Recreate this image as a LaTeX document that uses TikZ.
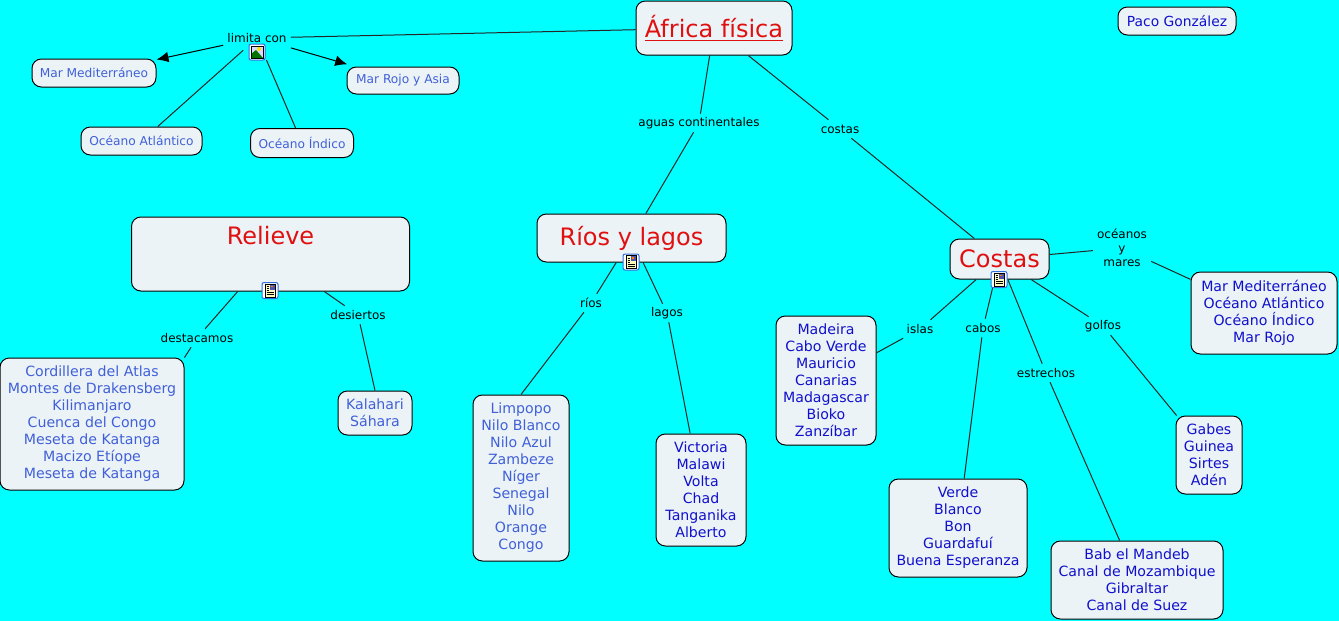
\documentclass[tikz,border=0pt]{standalone}
\usepackage{fontspec}
\usepackage{tikz}
\usetikzlibrary{arrows.meta}
\setmainfont{DejaVu Sans}
\definecolor{mapbg}{RGB}{0,255,255}
\definecolor{boxfill}{RGB}{236,243,247}
\definecolor{lightblue}{RGB}{64,96,216}
\definecolor{darkblue}{RGB}{16,16,204}
\definecolor{titlered}{RGB}{224,16,16}
\definecolor{iconblue}{RGB}{50,110,220}
\tikzset{
  concept/.style={draw=black, line width=0.75pt, fill=boxfill, rounded corners=7pt, inner sep=0pt, align=center},
  small/.style={concept, text=lightblue, font=\fontsize{9.15}{13}\selectfont},
  listlight/.style={concept, text=lightblue, font=\fontsize{10.6}{12.75}\selectfont},
  listdark/.style={concept, text=darkblue, font=\fontsize{10.6}{12.75}\selectfont},
  titlebox/.style={concept, text=titlered, font=\fontsize{18}{22}\selectfont},
  linklabel/.style={inner xsep=3pt, inner ysep=0pt, minimum height=13.5pt, align=center, font=\fontsize{9}{10.5}\selectfont},
  link/.style={line width=0.75pt, draw=black!85},
  linkarrow/.style={link, draw=black, -{Latex[length=9pt,width=8pt]}}
}
% small map icons, centred on the given point
\newcommand{\iconframe}[2]{
  \draw[draw=iconblue, fill=white, line width=0.75pt, rounded corners=1.5pt] (#1-8,#2-8) rectangle (#1+8,#2+8);
}
\newcommand{\imageicon}[2]{
  \iconframe{#1}{#2}
  \fill[blue!15] (#1-6,#2-6) rectangle (#1+6,#2+6);
  \fill[yellow!80!orange] (#1+2,#2-3) circle (2);
  \fill[green!45!black] (#1-6,#2+6) -- (#1-6,#2+2) -- (#1-1,#2-2) -- (#1+6,#2+6) -- cycle;
  \draw[black, line width=0.6pt] (#1-6,#2-6) rectangle (#1+6,#2+6);
}
\newcommand{\noteicon}[2]{
  \iconframe{#1}{#2}
  \fill[yellow!25] (#1-5,#2-6.5) rectangle (#1+5,#2+6.5);
  \fill[blue!35!gray] (#1,#2-6) rectangle (#1+5,#2-1);
  \fill[orange] (#1+1,#2-5) rectangle (#1+2.5,#2-3.5);
  \draw[black, line width=0.6pt] (#1-5,#2-6.5) rectangle (#1+5,#2+6.5);
  \draw[black, line width=0.6pt] (#1-3.5,#2-4) -- (#1-1,#2-4) (#1-3.5,#2-2) -- (#1-1,#2-2)
    (#1-3.5,#2) -- (#1-1,#2) (#1-3.5,#2+2) -- (#1+3.5,#2+2) (#1-3.5,#2+4) -- (#1+3.5,#2+4);
}
\begin{document}
\begin{tikzpicture}[x=0.75pt,y=-0.75pt]
  \useasboundingbox (0,0) rectangle (1339,621);
  \fill[mapbg] (0,0) rectangle (1339,621);

  % Concepts
  \node[titlebox, minimum width=117pt, minimum height=40.5pt] (africa) at (714,28) {\underline{África física}};
  \node[small, text=darkblue, font=\fontsize{10.4}{13}\selectfont, minimum width=88.5pt, minimum height=21pt] (paco) at (1177,21) {Paco González};
  \node[small, minimum width=93pt, minimum height=21pt] (medit) at (94,73) {Mar Mediterráneo};
  \node[small, minimum width=84pt, minimum height=20.25pt] (rojo) at (403,80.5) {Mar Rojo y Asia};
  \node[small, minimum width=90.75pt, minimum height=21pt] (atlantico) at (141.5,141) {Océano Atlántico};
  \node[small, minimum width=77.25pt, minimum height=21.75pt] (indico) at (302,143) {Océano Índico};

  \node[titlebox, minimum width=208.5pt, minimum height=55.5pt] (relieve) at (270.5,254) {Relieve\\[-1pt]\strut};
  \node[titlebox, minimum width=141.75pt, minimum height=36pt] (rios) at (631.5,238) {Ríos y lagos};
  \node[titlebox, minimum width=74.25pt, minimum height=30pt] (costas) at (999.5,259) {Costas};

  % Lists
  \node[listlight, minimum width=138pt, minimum height=99pt] (cordillera) at (92,424) {Cordillera del Atlas\\Montes de Drakensberg\\Kilimanjaro\\Cuenca del Congo\\Meseta de Katanga\\Macizo Etíope\\Meseta de Katanga};
  \node[listlight, minimum width=55.5pt, minimum height=33pt] (kalahari) at (375,413) {Kalahari\\Sáhara};
  \node[listlight, minimum width=72pt, minimum height=124.5pt] (limpopo) at (521,478) {Limpopo\\Nilo Blanco\\Nilo Azul\\Zambeze\\Níger\\Senegal\\Nilo\\Orange\\Congo};
  \node[listdark, minimum width=67.5pt, minimum height=84pt] (victoria) at (701,490) {Victoria\\Malawi\\Volta\\Chad\\Tanganika\\Alberto};
  \node[listdark, minimum width=75pt, minimum height=96.75pt] (madeira) at (826,380.5) {Madeira\\Cabo Verde\\Mauricio\\Canarias\\Madagascar\\Bioko\\Zanzíbar};
  \node[listdark, minimum width=103.5pt, minimum height=73.5pt] (verde) at (958,528) {Verde\\Blanco\\Bon\\Guardafuí\\Buena Esperanza};
  \node[listdark, minimum width=129pt, minimum height=58.5pt] (bab) at (1137,580) {Bab el Mandeb\\Canal de Mozambique\\Gibraltar\\Canal de Suez};
  \node[listdark, minimum width=49.5pt, minimum height=58.5pt] (gabes) at (1209,455) {Gabes\\Guinea\\Sirtes\\Adén};
  \node[listdark, minimum width=109.5pt, minimum height=61.5pt] (mares) at (1264,313) {Mar Mediterráneo\\Océano Atlántico\\Océano Índico\\Mar Rojo};

  % Link labels
  \node[linklabel, minimum height=18pt] (limita) at (257,38) {limita con};
  \node[linklabel] (aguas) at (699,123) {aguas continentales};
  \node[linklabel] (costaslink) at (840,129) {costas};
  \node[linklabel] (destacamos) at (197,338) {destacamos};
  \node[linklabel] (desiertos) at (358,315) {desiertos};
  \node[linklabel] (rioslink) at (591,303) {ríos};
  \node[linklabel] (lagos) at (667,313) {lagos};
  \node[linklabel] (islas) at (920,329) {islas};
  \node[linklabel] (cabos) at (983,328) {cabos};
  \node[linklabel] (estrechos) at (1046,373) {estrechos};
  \node[linklabel] (golfos) at (1103,326) {golfos};
  \node[linklabel] (oceanos) at (1122,248) {océanos\\y\\mares};

  % Connectors
  \draw[link] (africa) -- (limita);
  \draw[linkarrow] (limita) -- (medit);
  \draw[linkarrow, shorten >=6pt] (limita) -- (rojo);
  \draw[link] (limita) -- (atlantico);
  \draw[link, shorten <=8pt] (limita) -- (indico);
  \draw[link] (africa) -- (aguas);
  \draw[link] (aguas) -- (rios);
  \draw[link] (africa) -- (costaslink);
  \draw[link] (costaslink) -- (costas);
  \draw[link] (relieve) -- (destacamos);
  \draw[link] (destacamos) -- (cordillera.north east);
  \draw[link] (relieve) -- (desiertos);
  \draw[link] (desiertos) -- (kalahari.north);
  \draw[link] (rios) -- (rioslink);
  \draw[link] (rioslink) -- (limpopo.north);
  \draw[link] (rios) -- (lagos);
  \draw[link] (lagos) -- (victoria);
  \draw[link] (costas) -- (islas);
  \draw[link] (islas) -- (madeira);
  \draw[link] (costas) -- (cabos);
  \draw[link] (cabos) -- (verde);
  \draw[link] (costas) -- (estrechos);
  \draw[link] (estrechos) -- (bab);
  \draw[link] (costas) -- (golfos);
  \draw[link] (golfos) -- (gabes);
  \draw[link] (costas) -- (oceanos);
  \draw[link] (oceanos) -- (mares);

  % Icons
  \imageicon{257}{52}
  \noteicon{270}{290.5}
  \noteicon{631}{262}
  \noteicon{999}{279.5}
\end{tikzpicture}
\end{document}
